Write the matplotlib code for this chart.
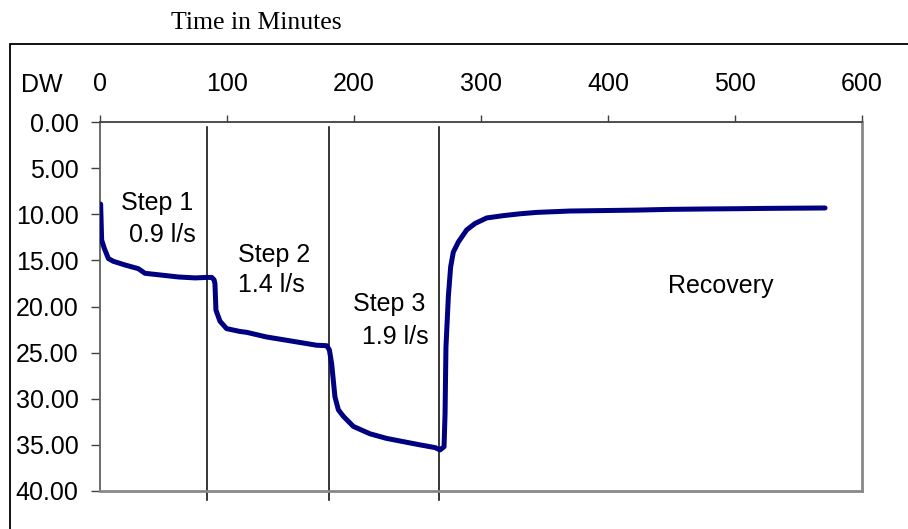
import matplotlib
matplotlib.use("Agg")
import matplotlib.pyplot as plt
from matplotlib.patches import Rectangle

# drawdown readings (time in minutes, DW in m)
time_min = [0.5, 1.3, 3.4, 6.6, 10.5, 19.7, 30.2, 35.4, 48.6, 61.7, 74.8, 84.0, 88.0,
            89.8, 90.5, 91.3, 94.5, 99.7, 110.0, 115.5, 131.0, 144.3, 157.5, 170.6,
            178.5, 180.6, 182.4, 185.0, 187.7, 191.6, 199.5, 212.6, 225.7, 238.8,
            252.0, 264.0, 267.7, 270.9, 271.7, 272.4, 274.3, 276.1, 278.2, 282.2,
            288.7, 295.3, 304.5, 317.6, 330.7, 343.8, 370.0, 396.3, 422.6, 448.8,
            475.0, 501.3, 527.6, 570.9]
dw = [8.9, 12.8, 13.7, 14.8, 15.1, 15.5, 15.9, 16.4, 16.6, 16.8, 16.9, 16.85, 16.85,
      17.1, 17.5, 20.4, 21.6, 22.4, 22.7, 22.8, 23.3, 23.6, 23.9, 24.2,
      24.25, 24.7, 26.2, 29.8, 31.2, 31.9, 33.0, 33.8, 34.3, 34.65,
      35.0, 35.3, 35.55, 35.2, 31.6, 24.4, 18.9, 15.7, 14.1, 13.0,
      11.7, 11.0, 10.4, 10.15, 9.95, 9.8, 9.65, 9.6, 9.55, 9.47,
      9.43, 9.4, 9.36, 9.32]

step_times = [84, 180, 267]
x_ticks = [0, 100, 200, 300, 400, 500, 600]
y_ticks = [0, 5, 10, 15, 20, 25, 30, 35, 40]

labels = [("Step 1", 45.3, 9.54), ("0.9 l/s", 49.4, 12.98),
          ("Step 2", 137.0, 15.18), ("1.4 l/s", 135.0, 18.43),
          ("Step 3", 227.8, 20.45), ("1.9 l/s", 232.7, 24.07),
          ("Recovery", 488.8, 18.55)]

plt.rcParams['font.family'] = ['Liberation Sans', 'DejaVu Sans']

fig = plt.figure(figsize=(9.08, 5.29), dpi=100)
ax = fig.add_axes([100 / 908, 1 - 491 / 529, 762 / 908, 369 / 529])

ax.plot(time_min, dw, color='#000080', lw=3.6, solid_capstyle='round',
        solid_joinstyle='round', zorder=3)

for t in step_times:
    ax.plot([t, t], [0.5, 41], color='black', lw=1.1, clip_on=False, zorder=2)

for txt, x, y in labels:
    ax.text(x, y, txt, fontsize=18, ha='center', va='baseline')

ax.set_xlim(0, 600)
ax.set_ylim(40, 0)
ax.xaxis.tick_top()
ax.set_xticks(x_ticks)
ax.set_yticks(y_ticks)
ax.set_yticklabels(['%.2f' % v for v in y_ticks])
ax.tick_params(axis='x', direction='out', length=5, width=1, pad=14,
               labelsize=18, color='#404040')
ax.tick_params(axis='y', direction='out', length=6.5, width=1, pad=9,
               labelsize=18, color='#404040')

ax.spines['top'].set_color('#404040')
ax.spines['top'].set_linewidth(1.3)
ax.spines['left'].set_color('#606060')
ax.spines['left'].set_linewidth(1.3)
for s in ['right', 'bottom']:
    ax.spines[s].set_color('#888888')
    ax.spines[s].set_linewidth(2)

fig.text(42 / 908, 1 - 85 / 529, "DW", fontsize=18, ha='center', va='center')
fig.text(256.5 / 908, 1 - 29.3 / 529, "Time in Minutes", fontsize=18.5,
         family=['Liberation Serif', 'DejaVu Serif'], ha='center', va='baseline')

# outer chart frame, runs off the right and bottom edges
fig.patches.append(Rectangle((10 / 908, -0.02), 1.0, 1 - 44 / 529 + 0.02,
                             transform=fig.transFigure, fill=False,
                             edgecolor='black', lw=1.3))

fig.savefig('out.png', dpi=100)
